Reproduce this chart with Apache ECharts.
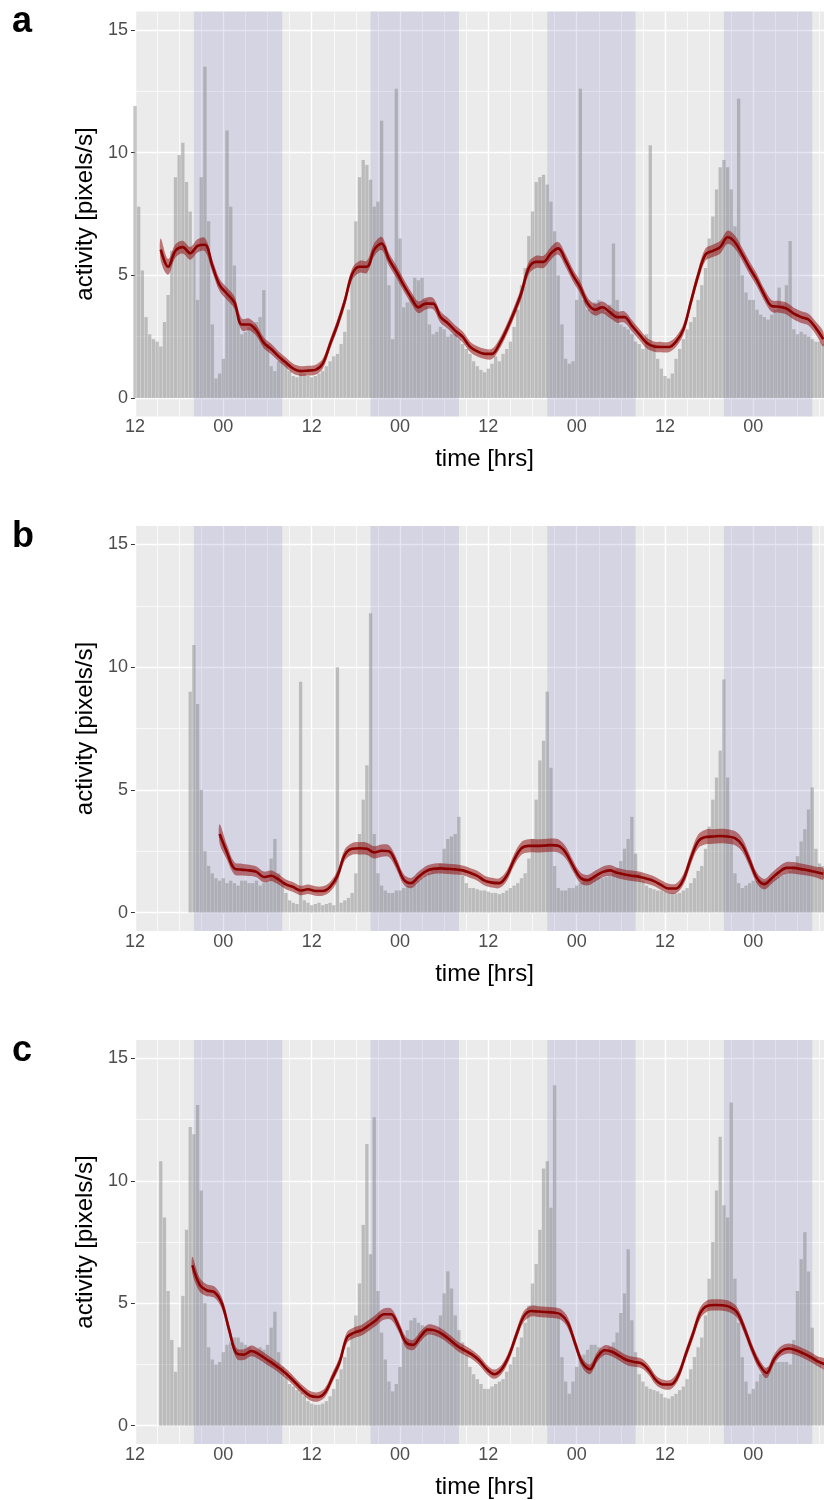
<!DOCTYPE html>
<html lang="en">
<head>
<meta charset="UTF-8">
<title>activity</title>
<style>
  html, body { margin: 0; padding: 0; background: #fff; }
  #chart { width: 824px; height: 1500px; }
</style>
</head>
<body>
<div id="chart"></div>
<script src="https://cdn.jsdelivr.net/npm/echarts@6/dist/echarts.min.js"></script>
<script>
// lights-off periods in hours
const nights = [[20, 32], [44, 56], [68, 80], [92, 104]];
const xTicks = [12, 24, 36, 48, 60, 72, 84, 96];
const yTicks = [0, 5, 10, 15];
const yMinor = [2.5, 7.5, 12.5];
const panelNames = ['a', 'b', 'c'];

// raw activity, one bar per half hour starting at histStart
const histStartA = 12;
const histA = [
  11.9, 7.8, 5.2, 3.3, 2.6, 2.4, 2.3, 2.1,
  3.1, 4.2, 6.0, 9.0, 9.9, 10.4, 8.8, 7.6,
  6.1, 4.0, 9.0, 13.5, 7.2, 3.0, 0.8, 1.0,
  1.6, 10.9, 7.8, 5.4, 3.4, 2.6, 2.7, 2.9,
  3.0, 3.1, 3.3, 4.4, 2.2, 1.3, 1.1, 1.5,
  1.6, 1.4, 1.1, 0.9, 0.85, 1.0, 1.0, 0.9,
  0.85, 0.9, 1.0, 1.1, 1.3, 1.5, 1.7, 1.8,
  2.2, 2.7, 3.6, 5.0, 7.2, 9.0, 9.7, 9.5,
  8.9, 7.8, 8.0, 11.3, 6.2, 4.6, 2.4, 12.6,
  6.5, 3.7, 3.9, 4.1, 4.9, 4.8, 4.9, 4.0,
  3.0, 2.6, 2.7, 2.9, 2.8, 2.5, 2.6, 2.6,
  2.4, 2.2, 2.0, 1.8, 1.5, 1.3, 1.15, 1.05,
  1.2, 1.4, 1.7, 1.5, 1.8, 2.0, 2.3, 2.9,
  3.6, 4.6, 5.3, 6.6, 7.6, 8.8, 9.0, 9.1,
  8.7, 8.0, 6.8, 5.0, 3.0, 1.6, 1.4, 1.5,
  4.0, 12.6, 4.0, 3.6, 3.5, 3.9, 4.0, 3.7,
  3.5, 3.8, 6.3, 4.0, 3.0, 2.9, 2.8, 2.6,
  2.3, 2.2, 2.0, 2.6, 10.3, 2.2, 1.6, 1.2,
  0.9, 0.8, 1.0, 1.6, 2.0, 2.4, 2.8, 3.1,
  3.3, 4.0, 4.6, 5.3, 6.5, 7.4, 8.5, 9.4,
  9.7, 9.4, 8.5, 7.0, 12.2, 5.0, 4.3, 4.0,
  4.0, 3.6, 3.4, 3.3, 3.2, 3.4, 3.6, 4.5,
  3.8, 4.6, 6.4, 2.8, 2.6, 2.7, 2.6, 2.5,
  2.4, 2.3, 2.3, 2.2
];
const histStartB = 19.5;
const histB = [
  9.0,
  10.9, 8.5, 5.0, 2.5, 1.9, 1.6, 1.4, 1.3,
  1.4, 1.2, 1.3, 1.2, 1.1, 1.3, 1.3, 1.2,
  1.2, 1.3, 1.1, 1.2, 1.3, 2.2, 3.0, 1.6,
  1.2, 0.8, 0.5, 0.4, 0.35, 9.4, 0.5, 0.4,
  0.3, 0.35, 0.4, 0.3, 0.35, 0.4, 0.3, 10.0,
  0.4, 0.5, 0.6, 0.8, 1.6, 3.2, 4.6, 6.0,
  12.2, 3.2, 1.6, 1.1, 0.9, 0.8, 0.8, 0.9,
  0.9, 1.0, 1.1, 1.1, 1.2, 1.3, 1.4, 1.5,
  1.6, 1.7, 1.8, 2.0, 2.6, 3.0, 3.1, 3.2,
  3.9, 1.5, 1.2, 1.0, 1.0, 0.95, 0.9, 0.9,
  0.85, 0.8, 0.8, 0.75, 0.8, 0.9, 1.0, 1.1,
  1.2, 1.4, 1.6, 2.2, 3.0, 4.6, 6.2, 7.0,
  9.0, 5.9, 1.9, 1.0, 0.9, 0.9, 1.0, 1.0,
  1.1, 1.2, 1.3, 1.4, 1.45, 1.5, 1.45, 1.4,
  1.45, 1.5, 1.6, 1.8, 2.1, 2.6, 3.0, 3.9,
  2.4, 1.6, 1.3, 1.1, 1.0, 0.95, 0.9, 0.9,
  0.85, 0.8, 0.8, 0.77, 0.8, 0.9, 1.0, 1.2,
  1.4, 1.7, 1.9, 2.6, 3.5, 4.6, 5.5, 6.6,
  9.5, 5.5, 3.0, 1.6, 1.2, 1.0, 1.1, 1.2,
  1.3, 1.3, 1.3, 1.3, 1.3, 1.35, 1.4, 1.45,
  1.5, 1.6, 1.7, 1.9, 2.3, 2.9, 3.4, 4.2,
  5.1, 2.6, 2.0, 1.9
];
const histStartC = 15.5;
const histC = [
  10.8,
  8.5, 5.5, 3.5, 2.2, 3.2, 5.3, 8.0, 12.2,
  11.9, 13.1, 9.6, 5.0, 3.2, 2.7, 2.5, 2.6,
  3.0, 3.3, 3.4, 3.6, 3.6, 3.4, 3.3, 3.2,
  3.0, 3.1, 3.2, 3.1, 3.3, 4.0, 4.65, 3.0,
  2.4, 2.0, 1.7, 1.6, 1.45, 1.35, 1.2, 1.0,
  0.9, 0.85, 0.85, 0.9, 1.0, 1.2, 1.5, 1.9,
  2.3, 2.8, 3.2, 3.7, 4.5, 5.8, 8.2, 11.5,
  7.0, 12.6, 5.5, 3.8, 2.7, 1.8, 1.4, 1.7,
  2.4, 3.4, 3.9, 4.3, 4.4, 4.2, 4.1, 4.0,
  3.9, 3.8, 3.9, 4.5, 5.4, 6.3, 5.6, 4.5,
  3.9, 3.4, 2.9, 2.4, 2.1, 1.9, 1.7, 1.5,
  1.5, 1.6, 1.7, 1.8, 1.9, 2.2, 2.5, 2.8,
  3.2, 3.6, 4.2, 4.9, 5.8, 6.6, 8.0, 10.5,
  10.8, 8.9, 13.9, 4.5, 2.8, 1.8, 1.3, 1.8,
  2.4, 2.7, 2.9, 3.1, 3.3, 3.3, 3.2, 3.0,
  3.0, 3.2, 3.4, 3.8, 4.6, 5.4, 7.2, 4.3,
  3.0, 2.1, 1.8, 1.6, 1.5, 1.45, 1.4, 1.3,
  1.15, 1.1, 1.2, 1.3, 1.45, 1.6, 1.9, 2.3,
  2.8, 3.2, 3.6, 4.5, 6.0, 7.5, 9.6, 11.8,
  9.0, 8.5, 13.2, 6.0, 4.2, 2.8, 1.8, 1.3,
  1.5, 1.8, 2.1, 2.3, 2.4, 2.5, 2.6, 2.6,
  2.6, 2.6, 2.5, 3.5, 5.5, 6.8, 7.9, 6.3,
  4.0, 2.8, 2.5, 2.3
];

// smoothed mean and its half band, one value per hour starting at lineStart
const lineStartA = 15.5;
const lineA = [
  6.05, 5.35, 6.0, 6.15, 5.9, 6.2, 6.25, 5.4, 4.6, 4.25,
  3.9, 3.0, 3.0, 2.75, 2.25, 2.0, 1.7, 1.45, 1.2, 1.1,
  1.12, 1.15, 1.4, 2.2, 3.0, 3.95, 5.05, 5.35, 5.35, 6.05,
  6.3, 5.65, 5.15, 4.6, 4.1, 3.7, 3.85, 3.85, 3.3, 3.05,
  2.75, 2.5, 2.1, 1.9, 1.8, 1.8, 2.2, 2.8, 3.5, 4.3,
  5.3, 5.55, 5.55, 5.9, 6.1, 5.6, 5.0, 4.5, 3.85, 3.6,
  3.7, 3.5, 3.3, 3.3, 2.95, 2.6, 2.25, 2.1, 2.08, 2.08,
  2.3, 2.8, 3.9, 5.0, 5.85, 6.0, 6.15, 6.55, 6.35, 5.85,
  5.3, 4.8, 4.2, 3.75, 3.72, 3.65, 3.44, 3.3, 3.2, 2.85,
  2.4
];
const seA = [
  0.45, 0.32, 0.27, 0.26, 0.26, 0.27, 0.27, 0.26, 0.25, 0.25,
  0.25, 0.24, 0.24, 0.23, 0.22, 0.21, 0.2, 0.2, 0.2, 0.2,
  0.2, 0.2, 0.2, 0.21, 0.22, 0.23, 0.24, 0.24, 0.25, 0.26,
  0.27, 0.26, 0.25, 0.25, 0.24, 0.24, 0.24, 0.23, 0.23, 0.22,
  0.22, 0.22, 0.21, 0.21, 0.21, 0.21, 0.21, 0.22, 0.23, 0.24,
  0.25, 0.25, 0.25, 0.26, 0.26, 0.26, 0.25, 0.25, 0.24, 0.24,
  0.24, 0.24, 0.23, 0.23, 0.23, 0.22, 0.22, 0.21, 0.21, 0.21,
  0.21, 0.22, 0.23, 0.24, 0.25, 0.25, 0.26, 0.27, 0.27, 0.26,
  0.26, 0.25, 0.24, 0.24, 0.24, 0.24, 0.24, 0.24, 0.24, 0.26,
  0.3
];
const lineStartB = 23.5;
const lineB = [
  3.2, 2.45, 1.8, 1.75, 1.72, 1.66, 1.45, 1.5, 1.35, 1.15,
  1.04, 0.9, 0.95, 0.88, 0.88, 1.05, 1.5, 2.35, 2.6, 2.62,
  2.6, 2.45, 2.52, 2.5, 2.0, 1.35, 1.2, 1.45, 1.68, 1.78,
  1.8, 1.78, 1.76, 1.72, 1.62, 1.5, 1.3, 1.22, 1.2, 1.5,
  2.15, 2.62, 2.72, 2.72, 2.73, 2.75, 2.72, 2.45, 1.9, 1.42,
  1.32, 1.48, 1.65, 1.72, 1.62, 1.55, 1.5, 1.46, 1.38, 1.28,
  1.12, 0.98, 0.98, 1.35, 2.2, 2.9, 3.08, 3.1, 3.12, 3.1,
  3.03, 2.75, 2.1, 1.4, 1.16, 1.4, 1.65, 1.82, 1.82, 1.77,
  1.72, 1.65, 1.58
];
const seB = [
  0.4, 0.3, 0.25, 0.24, 0.23, 0.22, 0.22, 0.21, 0.21, 0.2,
  0.2, 0.19, 0.19, 0.19, 0.19, 0.2, 0.21, 0.23, 0.24, 0.25,
  0.25, 0.25, 0.25, 0.24, 0.23, 0.21, 0.21, 0.21, 0.21, 0.21,
  0.21, 0.21, 0.21, 0.2, 0.2, 0.2, 0.2, 0.2, 0.2, 0.21,
  0.24, 0.26, 0.27, 0.27, 0.27, 0.27, 0.27, 0.25, 0.23, 0.22,
  0.21, 0.22, 0.22, 0.22, 0.21, 0.21, 0.21, 0.21, 0.2, 0.2,
  0.2, 0.2, 0.2, 0.22, 0.25, 0.28, 0.3, 0.3, 0.3, 0.3,
  0.29, 0.27, 0.24, 0.22, 0.21, 0.22, 0.23, 0.24, 0.24, 0.23,
  0.22, 0.22, 0.23
];
const lineStartC = 19.8;
const lineC = [
  6.55, 5.75, 5.52, 5.45, 5.0, 3.9, 2.95, 2.9, 3.05, 2.92,
  2.72, 2.52, 2.3, 2.05, 1.75, 1.45, 1.22, 1.17, 1.35, 1.95,
  2.6, 3.6, 3.8, 3.9, 4.1, 4.32, 4.55, 4.55, 4.05, 3.4,
  3.3, 3.65, 3.92, 3.88, 3.73, 3.5, 3.25, 3.07, 2.9, 2.65,
  2.3, 2.1, 2.3, 2.85, 3.7, 4.45, 4.68, 4.66, 4.64, 4.62,
  4.55, 4.2, 3.35, 2.55, 2.3, 2.8, 3.08, 3.02, 2.85, 2.68,
  2.6, 2.54, 2.27, 1.85, 1.68, 1.68, 2.05, 2.9, 3.75, 4.6,
  4.9, 4.93, 4.92, 4.85, 4.62, 3.95, 3.15, 2.5, 2.15, 2.7,
  3.05, 3.15, 3.08, 2.95, 2.8, 2.62, 2.5
];
const seC = [
  0.35, 0.28, 0.24, 0.23, 0.23, 0.23, 0.22, 0.22, 0.22, 0.21,
  0.21, 0.2, 0.2, 0.2, 0.19, 0.19, 0.19, 0.19, 0.19, 0.2,
  0.21, 0.22, 0.22, 0.22, 0.22, 0.23, 0.23, 0.23, 0.22, 0.22,
  0.21, 0.21, 0.21, 0.21, 0.2, 0.2, 0.2, 0.2, 0.19, 0.19,
  0.19, 0.19, 0.19, 0.2, 0.21, 0.22, 0.22, 0.22, 0.22, 0.22,
  0.22, 0.22, 0.21, 0.2, 0.2, 0.2, 0.2, 0.2, 0.2, 0.2,
  0.2, 0.2, 0.2, 0.19, 0.19, 0.19, 0.2, 0.21, 0.22, 0.23,
  0.23, 0.23, 0.23, 0.23, 0.22, 0.22, 0.21, 0.21, 0.21, 0.2,
  0.2, 0.2, 0.2, 0.2, 0.2, 0.2, 0.21
];

const panels = [
  { hist: histA, histStart: histStartA, line: lineA, lineStart: lineStartA, se: seA },
  { hist: histB, histStart: histStartB, line: lineB, lineStart: lineStartB, se: seB },
  { hist: histC, histStart: histStartC, line: lineC, lineStart: lineStartC, se: seC }
];

const panelTops = [11.5, 526, 1040];
const panelHeight = 405;
const xMin = 12, xMax = 105.6;
const font = 'Liberation Sans, Arial, sans-serif';

// white grid lines, drawn as markLines under the night shading
const gridLines = [];
for (let h = xMin; h <= xMax; h += 3) {
  gridLines.push({ xAxis: h, lineStyle: { width: xTicks.includes(h) ? 1.4 : 0.7 } });
}
yTicks.forEach(v => gridLines.push({ yAxis: v, lineStyle: { width: 1.4 } }));
yMinor.forEach(v => gridLines.push({ yAxis: v, lineStyle: { width: 0.7 } }));

// confidence band as one smoothed polygon through the coordinate system
function bandRenderer(p) {
  return function (params, api) {
    if (params.dataIndex !== 0) return null;
    const upper = [], lower = [];
    p.line.forEach((v, k) => {
      const t = p.lineStart + k;
      upper.push(api.coord([t, v + p.se[k]]));
      lower.push(api.coord([t, v - p.se[k]]));
    });
    const cs = params.coordSys;
    return {
      type: 'group',
      clipPath: { type: 'rect', shape: { x: cs.x, y: cs.y, width: cs.width, height: cs.height } },
      children: [{
        type: 'polygon',
        shape: { points: upper.concat(lower.reverse()), smooth: 0.35 },
        style: { fill: 'rgba(139,0,0,0.5)', stroke: 'none' }
      }]
    };
  };
}

const grids = [], xAxes = [], yAxes = [], series = [], graphics = [];

panels.forEach((p, i) => {
  grids.push({
    left: 135, right: 0, top: panelTops[i], height: panelHeight,
    show: true, backgroundColor: '#ebebeb', borderWidth: 0, z: 0
  });
  xAxes.push({
    gridIndex: i, type: 'value', min: xMin, max: xMax,
    name: 'time [hrs]', nameLocation: 'middle', nameGap: 31,
    nameTextStyle: { fontFamily: font, fontSize: 24, color: '#000', padding: [0, 0, 0, 10] },
    axisLine: { show: false },
    axisTick: { show: true, length: 4, customValues: xTicks, lineStyle: { color: '#333', width: 1 } },
    axisLabel: {
      customValues: xTicks, margin: 2, fontFamily: font, fontSize: 18, color: '#4d4d4d',
      formatter: v => (v % 24 === 0 ? '00' : '12')
    },
    splitLine: { show: false }
  });
  yAxes.push({
    gridIndex: i, type: 'value', min: -0.75, max: 15.75,
    name: 'activity [pixels/s]', nameLocation: 'middle', nameGap: 23,
    nameTextStyle: { fontFamily: font, fontSize: 24, color: '#000' },
    axisLine: { show: false },
    axisTick: { show: true, length: 4, customValues: yTicks, lineStyle: { color: '#333', width: 1 } },
    axisLabel: { customValues: yTicks, margin: 7, fontFamily: font, fontSize: 18, color: '#4d4d4d' },
    splitLine: { show: false }
  });

  const barData = p.hist.map((v, k) => [p.histStart + k * 0.5, v]);
  const lineData = p.line.map((v, k) => [p.lineStart + k, v]);

  series.push({
    type: 'bar', xAxisIndex: i, yAxisIndex: i, data: barData,
    barWidth: 3.3, z: 3, silent: true,
    itemStyle: { color: 'rgba(128,128,128,0.45)' },
    markLine: {
      silent: true, z: 1, symbol: ['none', 'none'], label: { show: false },
      lineStyle: { color: '#fff', type: 'solid' }, animation: false,
      data: gridLines
    },
    markArea: {
      silent: true, z: 2, itemStyle: { color: 'rgba(120,120,190,0.2)' },
      data: nights.map(n => [{ xAxis: n[0] }, { xAxis: n[1] }])
    }
  });
  series.push({
    type: 'custom', xAxisIndex: i, yAxisIndex: i, data: lineData,
    renderItem: bandRenderer(p), z: 4, silent: true
  });
  series.push({
    type: 'line', xAxisIndex: i, yAxisIndex: i, data: lineData,
    symbol: 'none', smooth: 0.35, z: 5, silent: true,
    lineStyle: { color: '#8b0000', width: 2.6 }
  });

  graphics.push({
    type: 'text', left: 12, top: panelTops[i] - 7,
    style: { text: panelNames[i], font: 'bold 36px ' + font, fill: '#000' }
  });
});

const chart = echarts.init(document.getElementById('chart'));
chart.setOption({
  animation: false,
  backgroundColor: '#fff',
  grid: grids,
  xAxis: xAxes,
  yAxis: yAxes,
  series: series,
  graphic: graphics
});
</script>
</body>
</html>
